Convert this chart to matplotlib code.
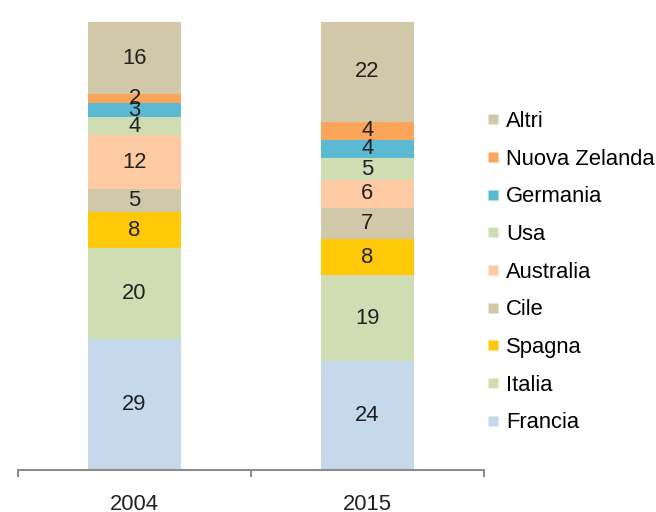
import matplotlib.pyplot as plt
from matplotlib.lines import Line2D

plt.rcParams['font.family'] = ['Liberation Sans', 'DejaVu Sans']

years = ['2004', '2015']
countries = ['Francia', 'Italia', 'Spagna', 'Cile', 'Australia', 'Usa',
             'Germania', 'Nuova Zelanda', 'Altri']
values_2004 = [29, 20, 8, 5, 12, 4, 3, 2, 16]
values_2015 = [24, 19, 8, 7, 6, 5, 4, 4, 22]
colors = ['#C6D8EC', '#CEDEB2', '#FFC90A', '#D0C8A8', '#FDCAA4', '#CEDEB2',
          '#5BB9D3', '#FBA55A', '#D0C8A8']

fig = plt.figure(figsize=(6.56, 5.12), dpi=100)
ax = fig.add_axes([18 / 656, 42 / 512, 466 / 656, 452.5 / 512])

x = [0, 1]
bottoms = [0, 0]
for i, name in enumerate(countries):
    vals = [values_2004[i], values_2015[i]]
    ax.bar(x, vals, bottom=bottoms, width=0.4, color=colors[i], label=name)
    for j in range(2):
        ax.text(x[j], bottoms[j] + vals[j] / 2, str(vals[j]), ha='center',
                va='center', fontsize=15.8, color='#222222')
    bottoms = [bottoms[0] + vals[0], bottoms[1] + vals[1]]

ax.set_xlim(-0.5, 1.5)
ax.set_ylim(0, 100)
ax.set_xticks(x)
ax.set_xticklabels(years, fontsize=15.8, color='#222222')
ax.tick_params(axis='x', which='major', length=0, pad=17)
ax.set_xticks([-0.5, 0.5, 1.5], minor=True)
ax.tick_params(axis='x', which='minor', length=5, width=1.5, color='#8C8C8C')
ax.set_yticks([])
for side in ['top', 'right', 'left']:
    ax.spines[side].set_visible(False)
ax.spines['bottom'].set_color('#8C8C8C')
ax.spines['bottom'].set_linewidth(1.5)

handles = [Line2D([], [], marker='s', linestyle='none', markersize=6.5,
                  markerfacecolor=c, markeredgecolor='none') for c in colors]
fig.legend(handles[::-1], countries[::-1], loc='upper left',
           bbox_to_anchor=(486 / 656, 1 - 111 / 512), frameon=False,
           fontsize=15.8, handlelength=0.6, handletextpad=0.3,
           labelspacing=0.76, borderpad=0, borderaxespad=0)

fig.savefig('out.png', dpi=100)
